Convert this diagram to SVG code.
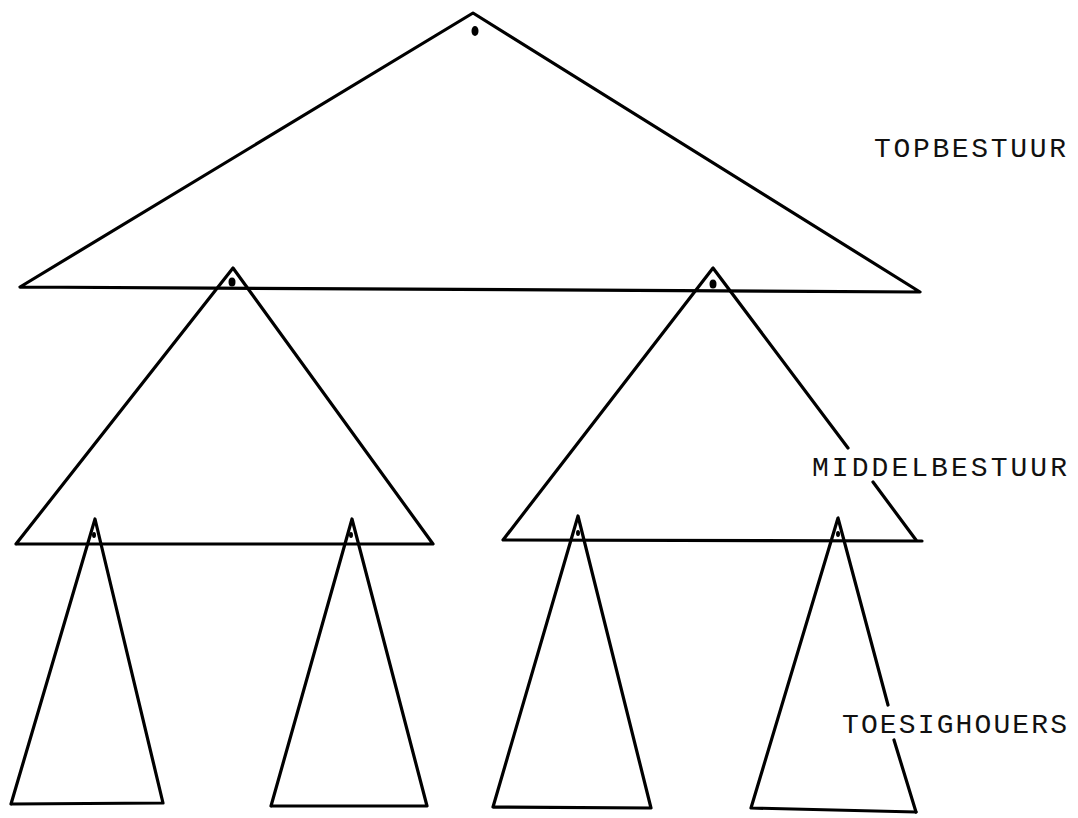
<svg xmlns="http://www.w3.org/2000/svg" width="1078" height="818" viewBox="0 0 1078 818">
<style>
.t{fill:none;stroke:#000;stroke-width:3.2;stroke-linejoin:round;stroke-linecap:round}
.d{fill:#000}
.l{font-family:"Liberation Mono","DejaVu Sans Mono",monospace;font-size:28px;fill:#111}
</style>
<rect width="1078" height="818" fill="#fff"/>
<g id="top">
<polyline class="t" points="20,287 473,13 920,292 20,287"/>
<ellipse class="d" cx="475" cy="31" rx="3.5" ry="5"/>
</g>
<g id="mid-left">
<polyline class="t" points="16,544 233,268 433,544 16,544"/>
<ellipse class="d" cx="232" cy="282" rx="3.5" ry="4.5"/>
</g>
<g id="mid-right">
<polyline class="t" points="848,448 713,268 503,540 922,541"/>
<line class="t" x1="873" y1="482" x2="916" y2="540"/>
<ellipse class="d" cx="713" cy="284" rx="3.5" ry="4.5"/>
</g>
<g id="bot-1">
<polyline class="t" points="11,804 95,519 163,803 11,804"/>
<ellipse class="d" cx="94" cy="535" rx="2" ry="3"/>
</g>
<g id="bot-2">
<polyline class="t" points="271,806 352,519 427,806 271,806"/>
<ellipse class="d" cx="351" cy="535" rx="2" ry="3"/>
</g>
<g id="bot-3">
<polyline class="t" points="493,807 578,516 651,808 493,807"/>
<ellipse class="d" cx="578" cy="533" rx="2" ry="3"/>
</g>
<g id="bot-4">
<polyline class="t" points="888,705 838,518 751,808 916,812"/>
<line class="t" x1="894" y1="740" x2="916" y2="812"/>
<ellipse class="d" cx="838" cy="534" rx="2" ry="3"/>
</g>
<g id="labels">
<text class="l" x="874" y="157" textLength="192" lengthAdjust="spacing">TOPBESTUUR</text>
<text class="l" x="812" y="476" textLength="255" lengthAdjust="spacing">MIDDELBESTUUR</text>
<text class="l" x="842" y="733" textLength="225" lengthAdjust="spacing">TOESIGHOUERS</text>
</g>
</svg>
